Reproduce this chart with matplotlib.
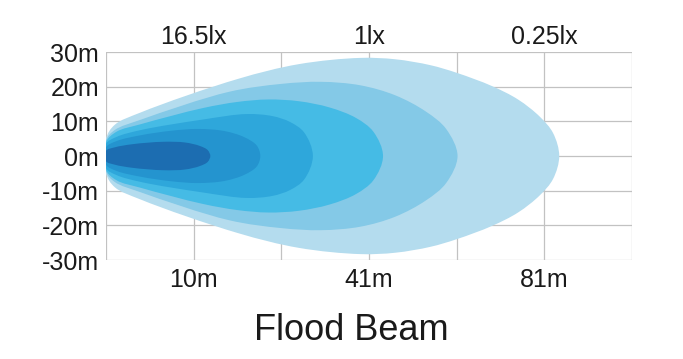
import matplotlib
matplotlib.use("Agg")
import matplotlib.pyplot as plt
from matplotlib.path import Path
from matplotlib.patches import PathPatch
import numpy as np

plt.rcParams['font.family'] = ['Liberation Sans', 'DejaVu Sans']

# ---- data ----
y_ticks = [-30, -20, -10, 0, 10, 20, 30]
y_labels = ['-30m', '-20m', '-10m', '0m', '10m', '20m', '30m']
grid_cols = [0, 1, 2, 3, 4, 5, 6]
label_cols = [1, 3, 5]
distance_labels = ['10m', '41m', '81m']
lux_labels = ['16.5lx', '1lx', '0.25lx']
title = 'Flood Beam'

# upper outline (column position, half-width in m) for each contour, outer -> inner
l1_x = [0, 0.1, 0.4, 1.5, 2.2, 2.9, 3.3, 3.7, 4.0, 4.4, 4.7, 4.95, 5.1, 5.17]
l1_w = [5, 9, 12.6, 22.2, 26.5, 28.3, 27.9, 26.2, 24.0, 20.2, 16.3, 11.3, 6.6, 0]
l2_x = [0, 0.1, 0.4, 1.4, 2.0, 2.45, 2.9, 3.3, 3.65, 3.88, 4.01]
l2_w = [4.5, 7.5, 10.5, 18.5, 20.8, 21.4, 20.4, 17.5, 12.8, 7.8, 0]
l3_x = [0, 0.12, 0.4, 1.1, 1.5, 1.85, 2.2, 2.55, 2.85, 3.05, 3.16]
l3_w = [4, 7, 9.2, 13.8, 15.6, 16.3, 15.8, 14.0, 11.0, 7.0, 0]
l4_x = [0, 0.12, 0.4, 1.1, 1.6, 1.9, 2.1, 2.26, 2.36]
l4_w = [3.5, 5.5, 7.5, 10.5, 12.1, 11.5, 9.8, 6.8, 0]
l5_x = [0, 0.12, 0.4, 0.75, 1.05, 1.35, 1.58, 1.72, 1.76]
l5_w = [2.5, 4.3, 6.0, 7.3, 7.8, 7.2, 5.4, 3.0, 0]
l6_x = [0, 0.1, 0.3, 0.65, 0.9, 1.07, 1.16, 1.19]
l6_w = [1.5, 2.5, 3.4, 4.1, 3.9, 2.9, 1.7, 0]

layers = [(l1_x, l1_w, '#b4dcee'),
          (l2_x, l2_w, '#84c9e7'),
          (l3_x, l3_w, '#45bbe5'),
          (l4_x, l4_w, '#2ea7db'),
          (l5_x, l5_w, '#2494cf'),
          (l6_x, l6_w, '#1c6db1')]

SX, SY = 87.67, 3.467  # approx. pixel size of one unit, for smooth curve shaping


def smooth_closed_path(xs, ws, alpha=0.5):
    up = list(zip(xs, ws))
    low = [(x, -w) for x, w in zip(xs[::-1], ws[::-1])][1:]
    pts = np.array(up + low, dtype=float)
    q = pts * np.array([SX, SY])
    n = len(q)
    verts = [pts[0]]
    codes = [Path.MOVETO]
    for i in range(n):
        p0, p1, p2, p3 = (q[(i - 1) % n], q[i], q[(i + 1) % n], q[(i + 2) % n])
        d0 = max(np.linalg.norm(p1 - p0) ** alpha, 1e-6)
        d1 = max(np.linalg.norm(p2 - p1) ** alpha, 1e-6)
        d2 = max(np.linalg.norm(p3 - p2) ** alpha, 1e-6)
        m1 = (p1 - p0) / d0 - (p2 - p0) / (d0 + d1) + (p2 - p1) / d1
        m2 = (p2 - p1) / d1 - (p3 - p1) / (d1 + d2) + (p3 - p2) / d2
        c1 = p1 + m1 * d1 / 3.0
        c2 = p2 - m2 * d1 / 3.0
        for v in (c1, c2, p2):
            verts.append(v / np.array([SX, SY]))
        codes += [Path.CURVE4] * 3
    return Path(verts, codes)


fig = plt.figure(figsize=(6.83, 3.59), dpi=100)
ax = fig.add_axes([106 / 683, 1 - 260 / 359, 526 / 683, 208 / 359])

grid_color = '#c2c2c2'
for c in grid_cols:
    ax.axvline(c, color=grid_color, lw=0.9, zorder=0)
for t in y_ticks:
    ax.axhline(t, color=grid_color, lw=0.9, zorder=0)

for xs, ws, col in layers:
    ax.add_patch(PathPatch(smooth_closed_path(xs, ws), facecolor=col,
                           edgecolor='none', zorder=2))

ax.set_xlim(0, 6)
ax.set_ylim(-30, 30)
for s in ax.spines.values():
    s.set_visible(False)

ax.set_yticks(y_ticks)
ax.set_yticklabels(y_labels)
ax.set_xticks(label_cols)
ax.set_xticklabels(distance_labels)
ax.tick_params(axis='both', length=0, labelsize=18, colors='#1a1a1a')
ax.tick_params(axis='x', pad=5.5)
ax.tick_params(axis='y', pad=5)

top = ax.secondary_xaxis('top')
top.set_xticks(label_cols)
top.set_xticklabels(lux_labels)
top.tick_params(length=0, labelsize=18, colors='#1a1a1a', pad=2)
for s in top.spines.values():
    s.set_visible(False)

fig.text(351 / 683, 1 - 330 / 359, title, ha='center', va='center',
         fontsize=26, color='#1a1a1a')

fig.savefig('out.png', dpi=100, facecolor='white')
